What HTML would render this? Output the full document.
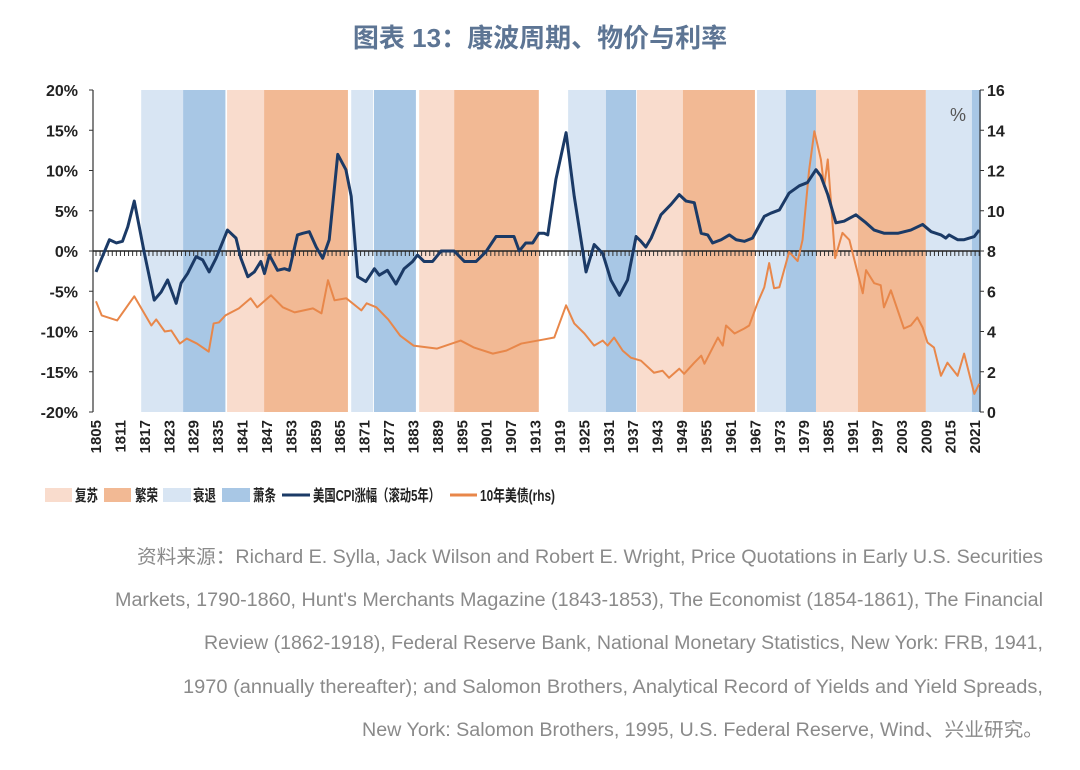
<!DOCTYPE html>
<html><head><meta charset="utf-8"><style>
html,body{margin:0;padding:0;background:#fff;}
svg{display:block;font-family:"Liberation Sans","Noto Sans CJK SC",sans-serif;}
</style></head><body>
<svg id="chart" width="1080" height="770" viewBox="0 0 1080 770">
<text x="540" y="47" text-anchor="middle" font-size="26" font-weight="bold" fill="#5d7594">图表 13：康波周期、物价与利率</text>
<g id="bands"></g>
<g id="axes"></g>
<g id="series"></g>
<g id="legend">
 <rect x="45" y="488" width="27" height="14" fill="#f9dccd"/>
 <text x="75" y="501" font-size="16" font-weight="bold" fill="#222" textLength="23" lengthAdjust="spacingAndGlyphs">复苏</text>
 <rect x="104" y="488" width="27" height="14" fill="#f2b994"/>
 <text x="135" y="501" font-size="16" font-weight="bold" fill="#222" textLength="23" lengthAdjust="spacingAndGlyphs">繁荣</text>
 <rect x="163" y="488" width="28" height="14" fill="#d8e5f3"/>
 <text x="193" y="501" font-size="16" font-weight="bold" fill="#222" textLength="23" lengthAdjust="spacingAndGlyphs">衰退</text>
 <rect x="222" y="488" width="28" height="14" fill="#a8c7e5"/>
 <text x="253" y="501" font-size="16" font-weight="bold" fill="#222" textLength="23" lengthAdjust="spacingAndGlyphs">萧条</text>
 <line x1="282" y1="495" x2="310" y2="495" stroke="#1b3a66" stroke-width="3"/>
 <text x="313" y="501" font-size="16" font-weight="bold" fill="#222" textLength="127" lengthAdjust="spacingAndGlyphs">美国CPI涨幅（滚动5年）</text>
 <line x1="450" y1="495" x2="477" y2="495" stroke="#e8874a" stroke-width="3"/>
 <text x="480" y="501" font-size="16" font-weight="bold" fill="#222" textLength="75" lengthAdjust="spacingAndGlyphs">10年美债(rhs)</text>
</g>
<g id="source" fill="#8a8a8a" font-size="19" text-anchor="end">
 <text x="1043" y="563" textLength="906" lengthAdjust="spacingAndGlyphs">资料来源：Richard E. Sylla, Jack Wilson and Robert E. Wright, Price Quotations in Early U.S. Securities</text>
 <text x="1043" y="606" textLength="928" lengthAdjust="spacingAndGlyphs">Markets, 1790-1860, Hunt's Merchants Magazine (1843-1853), The Economist (1854-1861), The Financial</text>
 <text x="1043" y="649" textLength="839" lengthAdjust="spacingAndGlyphs">Review (1862-1918), Federal Reserve Bank, National Monetary Statistics, New York: FRB, 1941,</text>
 <text x="1043" y="693" textLength="860" lengthAdjust="spacingAndGlyphs">1970 (annually thereafter); and Salomon Brothers, Analytical Record of Yields and Yield Spreads,</text>
 <text x="1043" y="736" textLength="681" lengthAdjust="spacingAndGlyphs">New York: Salomon Brothers, 1995, U.S. Federal Reserve, Wind、兴业研究。</text>
</g>
</svg>
<script>
const bandStarts = [1816.1,1826.4,1837.2,1846.3,1867.7,1873.3,1884.4,1893.0,1921.0,1930.3,1937.9,1949.2,1967.4,1974.5,1981.9,1992.2,2008.9,2020.2];
const bandEnds   = [1826.4,1836.8,1846.3,1866.9,1873.1,1883.6,1893.0,1913.8,1930.3,1937.7,1949.2,1966.9,1974.5,1981.9,1992.2,2008.9,2020.2,2022.4];
const bandTypes  = ['recession','depression','recovery','prosperity','recession','depression','recovery','prosperity','recession','depression','recovery','prosperity','recession','depression','recovery','prosperity','recession','depression'];
const cpiYears = [1805,1808.3,1810,1811.5,1812.8,1814.4,1816.9,1819.3,1821,1822.6,1824.7,1825.9,1827.5,1829.6,1831.2,1832.8,1834.5,1837.3,1839.4,1840.6,1842.3,1843.9,1845.5,1846.4,1847.6,1849.6,1851.3,1852.5,1854.5,1855.8,1857.4,1859.1,1860.7,1862.3,1864.4,1866.4,1867.7,1869.3,1871.3,1873.4,1874.6,1876.6,1878.7,1880.7,1882.8,1884,1885.6,1887.7,1889.8,1893,1895.5,1898.4,1900.8,1903.3,1907.7,1909,1910.6,1912.3,1913.8,1915.1,1916,1918,1920.5,1922.5,1925.4,1927.4,1929.5,1931.5,1933.6,1935.6,1937.7,1938.9,1940.1,1941.4,1943.8,1946.3,1948.3,1950,1952,1953.7,1955.3,1956.5,1958.6,1960.6,1962.3,1964.3,1966.3,1969.2,1970.8,1972.9,1975.3,1977.8,1979.8,1981.9,1983.1,1984.8,1986.8,1988.8,1991.7,1994.2,1996.2,1998.7,2002,2005.2,2008.1,2010.2,2012.6,2013.8,2014.6,2016.7,2018.3,2020.8,2022];
const cpiValues = [-2.6,1.4,1.0,1.2,3.0,6.2,-0.3,-6.1,-5.1,-3.6,-6.5,-4,-2.8,-0.7,-1.1,-2.6,-0.9,2.6,1.6,-0.9,-3.2,-2.6,-1.3,-2.8,-0.5,-2.4,-2.2,-2.4,2.0,2.2,2.4,0.5,-0.9,1.4,12,10.1,6.8,-3.2,-3.8,-2.2,-3,-2.4,-4.1,-2.2,-1.3,-0.5,-1.3,-1.3,0,0,-1.3,-1.3,-0.1,1.8,1.8,0,1,1,2.2,2.2,2.0,8.9,14.7,6.8,-2.6,0.8,-0.3,-3.6,-5.5,-3.6,1.8,1.2,0.5,1.6,4.5,5.8,7,6.2,6,2.2,2,1,1.4,2,1.4,1.2,1.6,4.3,4.7,5.1,7.2,8.1,8.5,10.1,9.3,7,3.5,3.7,4.5,3.5,2.6,2.2,2.2,2.6,3.3,2.4,2,1.6,2,1.4,1.4,1.8,2.6];
const yieldYears = [1805,1806.4,1810.2,1814.4,1818.6,1819.8,1821.9,1823.5,1825.6,1827.3,1829.8,1832.7,1833.9,1835.2,1836.8,1840.1,1843,1844.6,1848,1850.9,1853.8,1858.3,1860.4,1862,1863.6,1866.5,1870.2,1871.5,1873.9,1876.8,1879.7,1883,1888.8,1894.6,1897.9,1902.5,1905.8,1909.5,1914.9,1917.6,1920.5,1922.5,1925,1927.4,1929.5,1930.7,1932.3,1934.4,1936.4,1938.9,1942.1,1944.2,1945.8,1948.3,1949.5,1952,1953.7,1954.5,1957.8,1959,1959.8,1961.9,1964.3,1965.5,1967.6,1969.2,1970.4,1971.6,1972.9,1975.3,1977.4,1978.6,1980.2,1981.5,1983.1,1983.9,1984.8,1986.6,1988.4,1990.1,1993.4,1994.2,1996.2,1997.8,1998.6,2000.3,2003.5,2005.2,2006.8,2008.1,2009.3,2010.9,2012.6,2014.2,2016.7,2018.3,2020.8,2022];
const yieldValues = [5.5,4.8,4.55,5.75,4.3,4.6,4.0,4.05,3.4,3.65,3.4,3.0,4.4,4.45,4.8,5.15,5.65,5.2,5.8,5.2,4.95,5.15,4.9,6.55,5.55,5.65,5.05,5.4,5.2,4.6,3.8,3.3,3.15,3.55,3.2,2.9,3.05,3.4,3.6,3.7,5.3,4.4,3.9,3.3,3.55,3.3,3.7,3.05,2.7,2.55,1.95,2.05,1.7,2.15,1.9,2.45,2.8,2.4,3.7,3.3,4.3,3.9,4.15,4.3,5.45,6.2,7.4,6.15,6.2,7.95,7.5,8.55,12,13.95,12.55,11.2,12.55,7.65,8.9,8.55,5.9,7.05,6.4,6.3,5.2,6.05,4.15,4.3,4.7,4.2,3.45,3.2,1.8,2.45,1.8,2.9,0.9,1.4];
const leftTicks = [20,15,10,5,0,-5,-10,-15,-20];
const rightTicks = [16,14,12,10,8,6,4,2,0];
const yearLabels = [1805,1811,1817,1823,1829,1835,1841,1847,1853,1859,1865,1871,1877,1883,1889,1895,1901,1907,1913,1919,1925,1931,1937,1943,1949,1955,1961,1967,1973,1979,1985,1991,1997,2003,2009,2015,2021];

const NS='http://www.w3.org/2000/svg';
const X0=93, X1=980, Y0=90, Y1=412;
const xs = y => 96 + (y-1805)*4.07;
const yl = v => 251 - v*8.05;
const yr = v => Y1 - v*(Y1-Y0)/16;
function mk(tag, attrs, parent){const e=document.createElementNS(NS,tag);for(const k in attrs)e.setAttribute(k,attrs[k]);parent.appendChild(e);return e;}
const colors={recovery:'#f9dccd',prosperity:'#f2b994',recession:'#d8e5f3',depression:'#a8c7e5'};
const gB=document.getElementById('bands');
bandStarts.forEach((s,i)=>{
  const r=mk('rect',{x:xs(s),y:Y0,width:xs(bandEnds[i])-xs(s),height:Y1-Y0,fill:colors[bandTypes[i]]},gB);
  
  
});
const gA=document.getElementById('axes');
let l=mk('line',{x1:X0,y1:Y0,x2:X0,y2:Y1,stroke:'#333','stroke-width':1.2},gA);


l=mk('line',{x1:X1,y1:Y0,x2:X1,y2:Y1,stroke:'#333','stroke-width':1.2},gA);


leftTicks.forEach(v=>{
  mk('line',{x1:X0-4,y1:yl(v),x2:X0,y2:yl(v),stroke:'#333'},gA);
  const t=mk('text',{x:78,y:yl(v)+6,'text-anchor':'end','font-size':16,'font-weight':'bold',fill:'#222'},gA);
  t.textContent=v+'%';
  
  
});
rightTicks.forEach(v=>{
  mk('line',{x1:X1,y1:yr(v),x2:X1+4,y2:yr(v),stroke:'#333'},gA);
  const t=mk('text',{x:987,y:yr(v)+6,'font-size':16,'font-weight':'bold',fill:'#222'},gA);
  t.textContent=v;
  
  
});
const pct=mk('text',{x:950,y:121,'font-size':18,fill:'#555'},gA);
pct.textContent='%';


yearLabels.forEach(y=>{
  const x=xs(y)+5;
  const t=mk('text',{x:x,y:420,transform:`rotate(-90 ${x} 420)`,'text-anchor':'end','font-size':15,'font-weight':'bold',fill:'#222'},gA);
  t.textContent=y;
  
  
});
for(let y=1805;y<=2022;y++) mk('line',{x1:xs(y),y1:251,x2:xs(y),y2:256,stroke:'#333','stroke-width':1},gA);
l=mk('line',{x1:X0,y1:251,x2:X1,y2:251,stroke:'#222','stroke-width':1.5},gA);


const gS=document.getElementById('series');
let p=mk('polyline',{points:yieldYears.map((y,i)=>xs(y)+','+yr(yieldValues[i])).join(' '),fill:'none',stroke:'#e8874a','stroke-width':2,'stroke-linejoin':'round'},gS);


p=mk('polyline',{points:cpiYears.map((y,i)=>xs(y)+','+yl(cpiValues[i])).join(' '),fill:'none',stroke:'#1b3a66','stroke-width':3,'stroke-linejoin':'round'},gS);


</script>
</body></html>
